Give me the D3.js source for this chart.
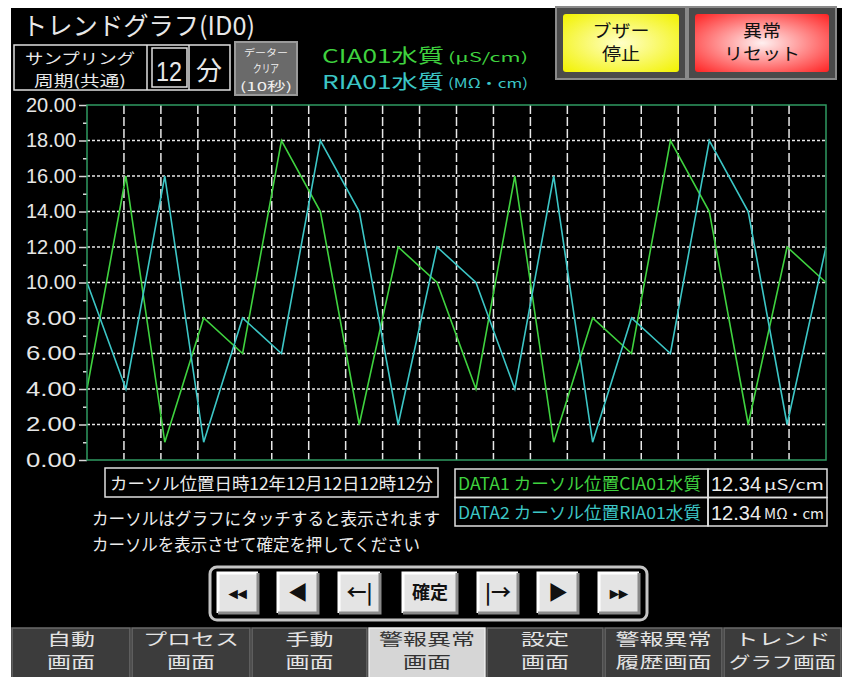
<!DOCTYPE html>
<html>
<head>
<meta charset="utf-8">
<script src="https://cdn.jsdelivr.net/npm/d3@7"></script>
<style>
  body { margin: 0; background: #fff; }
  text { font-family: "Noto Sans CJK JP", "Liberation Sans", sans-serif; }
</style>
</head>
<body>
<div id="wrapper"></div>
<script>
// values (20 samples each)
const ciaValues = [4, 16, 1, 8, 6, 18, 14, 2, 12, 10, 4, 16, 1, 8, 6, 18, 14, 2, 12, 10]
const riaValues = [10, 4, 16, 1, 8, 6, 18, 14, 2, 12, 10, 4, 16, 1, 8, 6, 18, 14, 2, 12]
const yMajorTicks = [0, 2, 4, 6, 8, 10, 12, 14, 16, 18, 20]
const yMinorTicks = [1, 3, 5, 7, 9, 11, 13, 15, 17, 19]
const gridDivisions = 20
const seriesNames = ["CIA01水質", "RIA01水質"]
const seriesUnits = ["(μS/cm)", "(MΩ・cm)"]
const seriesColors = ["#3fd23f", "#3cc6c6"]
const cursorButtons = ["◂◂", "◀", "←|", "確定", "|→", "▶", "▸▸"]
const navTabs = [["自動", "画面"], ["プロセス", "画面"], ["手動", "画面"], ["警報異常", "画面"],
                 ["設定", "画面"], ["警報異常", "履歴画面"], ["トレンド", "グラフ画面"]]
const activeTab = 3

function drawScreen() {
    const dimensions = {
        width: 842,
        height: 677,
        plot: { left: 87, top: 105, right: 826, bottom: 460 }
    }

    const svg = d3.select("#wrapper")
        .append("svg")
            .attr("width", dimensions.width)
            .attr("height", dimensions.height)

    // black panel
    svg.append("rect")
        .attr("x", 11).attr("y", 8)
        .attr("width", 831).attr("height", 669)
        .attr("fill", "#000")

    const label = (x, y, str, size, fill, opts = {}) => {
        const t = svg.append("text")
            .attr("x", x).attr("y", y)
            .attr("font-size", size)
            .attr("fill", fill)
            .attr("text-anchor", opts.anchor || "start")
            .text(str)
        if (opts.len) t.attr("textLength", opts.len).attr("lengthAdjust", "spacingAndGlyphs")
        if (opts.family) t.style("font-family", opts.family)
        return t
    }

    // header
    label(22, 35, "トレンドグラフ(ID0)", 25, "#e8e8e8", { len: 233 })

    svg.append("rect").attr("x", 14).attr("y", 45).attr("width", 216).attr("height", 45)
        .attr("fill", "none").attr("stroke", "#e0e0e0").attr("stroke-width", 1.5)
    svg.append("line").attr("x1", 147).attr("x2", 147).attr("y1", 45).attr("y2", 90)
        .attr("stroke", "#e0e0e0").attr("stroke-width", 1.5)
    svg.append("line").attr("x1", 189).attr("x2", 189).attr("y1", 45).attr("y2", 90)
        .attr("stroke", "#e0e0e0").attr("stroke-width", 1.5)
    svg.append("rect").attr("x", 152).attr("y", 48).attr("width", 35).attr("height", 39)
        .attr("fill", "none").attr("stroke", "#e0e0e0").attr("stroke-width", 1.5)
    label(80, 64, "サンプリング", 15, "#e8e8e8", { anchor: "middle", len: 110 })
    label(80, 86, "周期(共通)", 15, "#e8e8e8", { anchor: "middle", len: 92 })
    label(169, 81, "12", 28, "#e8e8e8", { anchor: "middle", len: 26, family: "Liberation Sans" })
    label(209, 80, "分", 26, "#e8e8e8", { anchor: "middle" })

    // data clear button
    svg.append("rect").attr("x", 235).attr("y", 42).attr("width", 62).attr("height", 53)
        .attr("fill", "#6a6a6a").attr("stroke", "#9a9a9a").attr("stroke-width", 2)
    label(266, 56, "データー", 9, "#f0f0f0", { anchor: "middle", len: 44 })
    label(266, 73, "クリア", 11, "#f0f0f0", { anchor: "middle", len: 26 })
    label(266, 91, "(10秒)", 12, "#f0f0f0", { anchor: "middle", len: 52 })

    // legend
    seriesNames.forEach((name, i) => {
        const y = 63 + i * 26
        label(322, y, name, 19, seriesColors[i], { len: 122 })
        label(448, y - 1, seriesUnits[i], 13, seriesColors[i], { len: 80 })
    })

    // buzzer / reset buttons
    const defs = svg.append("defs")
    const grad = (id, inner, outer) => {
        const g = defs.append("radialGradient").attr("id", id)
            .attr("cx", "50%").attr("cy", "50%").attr("r", "70%")
        g.append("stop").attr("offset", "0%").attr("stop-color", inner)
        g.append("stop").attr("offset", "100%").attr("stop-color", outer)
    }
    grad("yel", "#ffffc8", "#f2f200")
    grad("red", "#fff0f0", "#ff2424")
    const bigButton = (x, w, fillId, lines) => {
        svg.append("rect").attr("x", x).attr("y", 7).attr("width", w).attr("height", 72)
            .attr("fill", "#4a4a4a").attr("stroke", "#8a8a8a").attr("stroke-width", 2)
        svg.append("rect").attr("x", x + 7).attr("y", 14).attr("width", w - 14).attr("height", 58)
            .attr("rx", 3).attr("fill", `url(#${fillId})`)
        lines.forEach((s, i) => label(x + w / 2, 37 + i * 23, s, 17, "#111", { anchor: "middle", len: s.length * 19 }))
    }
    bigButton(556, 130, "yel", ["ブザー", "停止"])
    bigButton(688, 148, "red", ["異常", "リセット"])

    // chart
    const p = dimensions.plot
    const xScale = d3.scaleLinear()
        .domain([0, ciaValues.length - 1])
        .range([p.left, p.right])
    const gridScale = d3.scaleLinear()
        .domain([0, gridDivisions])
        .range([p.left, p.right])
    const yScale = d3.scaleLinear()
        .domain([0, 20])
        .range([p.bottom, p.top])

    const grid = svg.append("g")
    grid.selectAll(".hgrid")
        .data(yMajorTicks.filter(d => d > 0 && d < 20))
        .join("line")
            .attr("x1", p.left).attr("x2", p.right)
            .attr("y1", d => yScale(d)).attr("y2", d => yScale(d))
            .attr("stroke", "#e8e8e8").attr("stroke-width", 1.5)
            .attr("stroke-dasharray", "3,2")
    grid.selectAll(".vgrid")
        .data(d3.range(1, gridDivisions))
        .join("line")
            .attr("x1", d => gridScale(d)).attr("x2", d => gridScale(d))
            .attr("y1", p.top).attr("y2", p.bottom)
            .attr("stroke", "#e8e8e8").attr("stroke-width", 1.5)
            .attr("stroke-dasharray", "9,3")

    const yAxis = svg.append("g")
        .attr("transform", `translate(${p.left},0)`)
        .call(d3.axisLeft(yScale).tickValues(yMajorTicks).tickFormat(d3.format(".2f")).tickSize(8).tickPadding(3))
    yAxis.select(".domain").remove()
    yAxis.selectAll("line").attr("stroke", "#d8d8d8").attr("stroke-width", 1.5)
    yAxis.selectAll("text")
        .attr("fill", "#e6e6e6")
        .style("font-family", "Liberation Sans")
        .attr("font-size", 20)
        .attr("textLength", 50).attr("lengthAdjust", "spacingAndGlyphs")
    const yMinor = svg.append("g")
        .attr("transform", `translate(${p.left},0)`)
        .call(d3.axisLeft(yScale).tickValues(yMinorTicks).tickFormat("").tickSize(4))
    yMinor.select(".domain").remove()
    yMinor.selectAll("line").attr("stroke", "#d8d8d8").attr("stroke-width", 1.5)

    const lineGenerator = d3.line()
        .x((d, i) => xScale(i))
        .y(d => yScale(d))
    ;[ciaValues, riaValues].forEach((values, i) => {
        svg.append("path")
            .attr("d", lineGenerator(values))
            .attr("fill", "none")
            .attr("stroke", seriesColors[i])
            .attr("stroke-width", 1.6)
    })

    svg.append("rect")
        .attr("x", p.left).attr("y", p.top)
        .attr("width", p.right - p.left).attr("height", p.bottom - p.top)
        .attr("fill", "none").attr("stroke", "#2f9a62").attr("stroke-width", 1.5)

    // cursor info
    svg.append("rect").attr("x", 105).attr("y", 468).attr("width", 333).attr("height", 29)
        .attr("fill", "none").attr("stroke", "#e0e0e0").attr("stroke-width", 1.5)
    label(110, 490, "カーソル位置日時12年12月12日12時12分", 17, "#ececec", { len: 323 })
    label(92, 525, "カーソルはグラフにタッチすると表示されます", 17, "#ececec", { len: 348 })
    label(92, 551, "カーソルを表示させて確定を押してください", 17, "#ececec", { len: 328 })

    const tableRows = [["DATA1 カーソル位置CIA01水質", "12.34", "μS/cm"],
                       ["DATA2 カーソル位置RIA01水質", "12.34", "MΩ・cm"]]
    tableRows.forEach((row, i) => {
        const y = 469 + i * 28.5
        svg.append("rect").attr("x", 455).attr("y", y).attr("width", 253).attr("height", 28.5)
            .attr("fill", "none").attr("stroke", "#e0e0e0").attr("stroke-width", 1.5)
        svg.append("rect").attr("x", 708).attr("y", y).attr("width", 119).attr("height", 28.5)
            .attr("fill", "none").attr("stroke", "#e0e0e0").attr("stroke-width", 1.5)
        label(458, y + 21, row[0], 17, seriesColors[i], { len: 243 })
        label(711, y + 22, row[1], 21, "#ececec", { len: 50, family: "Liberation Sans" })
        label(764, y + 21, row[2], 14, "#ececec", { len: 60 })
    })

    // cursor button bar
    svg.append("rect").attr("x", 210).attr("y", 567).attr("width", 437).attr("height", 53)
        .attr("rx", 7).attr("fill", "#000").attr("stroke", "#c4c4c4").attr("stroke-width", 3)
    const btnX = [218, 278, 339, 403, 478, 538, 599]
    const btnW = [40, 40, 41, 54, 40, 40, 40]
    cursorButtons.forEach((s, i) => {
        const x = btnX[i], w = btnW[i], y = 573, h = 40
        svg.append("rect").attr("x", x).attr("y", y).attr("width", w).attr("height", h).attr("fill", "#e4e4e4")
        svg.append("path").attr("d", `M${x},${y + h}V${y}H${x + w}`).attr("fill", "none")
            .attr("stroke", "#ffffff").attr("stroke-width", 3)
        svg.append("path").attr("d", `M${x + w},${y}V${y + h}H${x}`).attr("fill", "none")
            .attr("stroke", "#8a8a8a").attr("stroke-width", 3)
        const size = s === "確定" ? 18 : (s.length === 2 && s[0] === s[1] ? 17 : 20)
        label(x + w / 2, y + h / 2 + size * 0.36, s, size, "#111", { anchor: "middle" })
            .attr("font-weight", "bold")
    })

    // bottom navigation tabs
    const tabEdges = [11, 131, 251, 368, 486, 604, 723, 842]
    navTabs.forEach((lines, i) => {
        const x0 = tabEdges[i], x1 = tabEdges[i + 1]
        const active = i === activeTab
        svg.append("rect").attr("x", x0 + 1).attr("y", 628).attr("width", x1 - x0 - 2).attr("height", 52)
            .attr("fill", active ? "#d6d6d6" : "#3c3c3c")
            .attr("stroke", active ? "#f0f0f0" : "#6a6a6a").attr("stroke-width", 1.5)
        lines.forEach((s, j) => {
            label((x0 + x1) / 2, 645 + j * 23, s, 16, active ? "#333" : "#e4e4e4",
                { anchor: "middle", len: Math.min(s.length * 24, x1 - x0 - 12) })
        })
    })
}

drawScreen()
</script>
</body>
</html>
